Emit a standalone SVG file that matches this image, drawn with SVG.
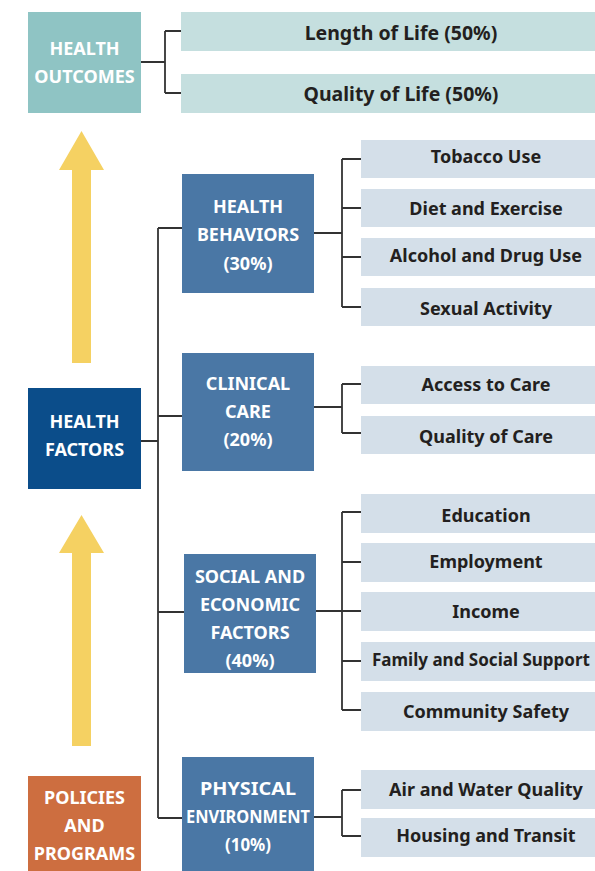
<svg xmlns="http://www.w3.org/2000/svg" width="595" height="871" viewBox="0 0 595 871">
<style>
text{font-family:"Noto Sans","Open Sans","DejaVu Sans",sans-serif;font-weight:bold;font-size:18px;text-anchor:middle}
.big{font-size:19.5px}
.sm{font-size:17px}
.w{fill:#ffffff}
.d{fill:#231f20}
.leaf{fill:#d4dfe9}
.out{fill:#c5dfdf}
.cat{fill:#4a77a5}
.ln{fill:none;stroke:#333333;stroke-width:1.8}
.arr{fill:#f5d162}
</style>
<rect width="595" height="871" fill="#ffffff"/>
<g id="arrows">
<polygon class="arr" points="81.5,131 104,170 91,170 91,363 72,363 72,170 59,170"/>
<polygon class="arr" points="81.5,515 104,553 91,553 91,746 72,746 72,553 59,553"/>
</g>
<g id="connectors">
<path class="ln" d="M141,62H165M165,31V93M165,31H181M165,93H181"/>
<path class="ln" d="M141,441H158M158,228V818M158,228H182M158,416H182M158,612H184M158,818H182"/>
<path class="ln" d="M314,233H342M342,159V307M342,159H361M342,208H361M342,257H361M342,307H361"/>
<path class="ln" d="M314,407H342M342,384V433M342,384H361M342,433H361"/>
<path class="ln" d="M316,611H342M342,512V710M342,512H361M342,562H361M342,611H361M342,661H361M342,710H361"/>
<path class="ln" d="M314,817H342M342,790V836M342,790H361M342,836H361"/>
</g>
<g id="health-outcomes">
<rect x="28" y="12" width="113" height="101" fill="#8fc4c4"/>
<text class="w" x="84.5" y="55">HEALTH</text>
<text class="w" x="84.5" y="83">OUTCOMES</text>
</g>
<g id="length-of-life"><rect class="out" x="181" y="12" width="414" height="39"/><text class="d big" x="401" y="39.5">Length of Life (50%)</text></g>
<g id="quality-of-life"><rect class="out" x="181" y="74" width="414" height="39"/><text class="d big" x="401" y="100.5">Quality of Life (50%)</text></g>
<g id="health-factors">
<rect x="28" y="388" width="113" height="101" fill="#0b4d8a"/>
<text class="w" x="84.5" y="428">HEALTH</text>
<text class="w" x="84.5" y="456">FACTORS</text>
</g>
<g id="policies">
<rect x="28" y="776" width="113" height="95" fill="#cd6e40"/>
<text class="w" x="84.5" y="804">POLICIES</text>
<text class="w" x="84.5" y="832">AND</text>
<text class="w" x="84.5" y="860">PROGRAMS</text>
</g>
<g id="health-behaviors">
<rect class="cat" x="182" y="174" width="132" height="119"/>
<text class="w" x="248" y="213">HEALTH</text>
<text class="w" x="248" y="241">BEHAVIORS</text>
<text class="w" x="248" y="270">(30%)</text>
</g>
<g id="tobacco"><rect class="leaf" x="361" y="140" width="234" height="38"/><text class="d" x="486" y="163">Tobacco Use</text></g>
<g id="diet"><rect class="leaf" x="361" y="189" width="234" height="38"/><text class="d" x="486" y="215">Diet and Exercise</text></g>
<g id="alcohol"><rect class="leaf" x="361" y="238" width="234" height="38"/><text class="d" x="486" y="262">Alcohol and Drug Use</text></g>
<g id="sexual"><rect class="leaf" x="361" y="288" width="234" height="38"/><text class="d" x="486" y="315">Sexual Activity</text></g>
<g id="clinical-care">
<rect class="cat" x="182" y="353" width="132" height="118"/>
<text class="w" x="248" y="390">CLINICAL</text>
<text class="w" x="248" y="418">CARE</text>
<text class="w" x="248" y="446">(20%)</text>
</g>
<g id="access"><rect class="leaf" x="361" y="366" width="234" height="38"/><text class="d" x="486" y="391">Access to Care</text></g>
<g id="quality-care"><rect class="leaf" x="361" y="416" width="234" height="38"/><text class="d" x="486" y="443">Quality of Care</text></g>
<g id="social-economic">
<rect class="cat" x="184" y="554" width="132" height="119"/>
<text class="w" x="250" y="583">SOCIAL AND</text>
<text class="w" x="250" y="611">ECONOMIC</text>
<text class="w" x="250" y="639">FACTORS</text>
<text class="w" x="250" y="667">(40%)</text>
</g>
<g id="education"><rect class="leaf" x="361" y="494" width="234" height="39"/><text class="d" x="486" y="522">Education</text></g>
<g id="employment"><rect class="leaf" x="361" y="543" width="234" height="39"/><text class="d" x="486" y="568">Employment</text></g>
<g id="income"><rect class="leaf" x="361" y="592" width="234" height="39"/><text class="d" x="486" y="618">Income</text></g>
<g id="family"><rect class="leaf" x="361" y="642" width="234" height="39"/><text class="d sm" x="481" y="666" textLength="218" lengthAdjust="spacingAndGlyphs">Family and Social Support</text></g>
<g id="community"><rect class="leaf" x="361" y="692" width="234" height="39"/><text class="d" x="486" y="718">Community Safety</text></g>
<g id="physical-environment">
<rect class="cat" x="182" y="757" width="132" height="114"/>
<text class="w" x="248" y="795" textLength="96" lengthAdjust="spacingAndGlyphs">PHYSICAL</text>
<text class="w" x="248" y="823" textLength="124" lengthAdjust="spacingAndGlyphs">ENVIRONMENT</text>
<text class="w" x="248" y="851" textLength="46" lengthAdjust="spacingAndGlyphs">(10%)</text>
</g>
<g id="air-water"><rect class="leaf" x="361" y="770" width="234" height="39"/><text class="d" x="486" y="796">Air and Water Quality</text></g>
<g id="housing"><rect class="leaf" x="361" y="818" width="234" height="39"/><text class="d" x="486" y="842">Housing and Transit</text></g>
</svg>
